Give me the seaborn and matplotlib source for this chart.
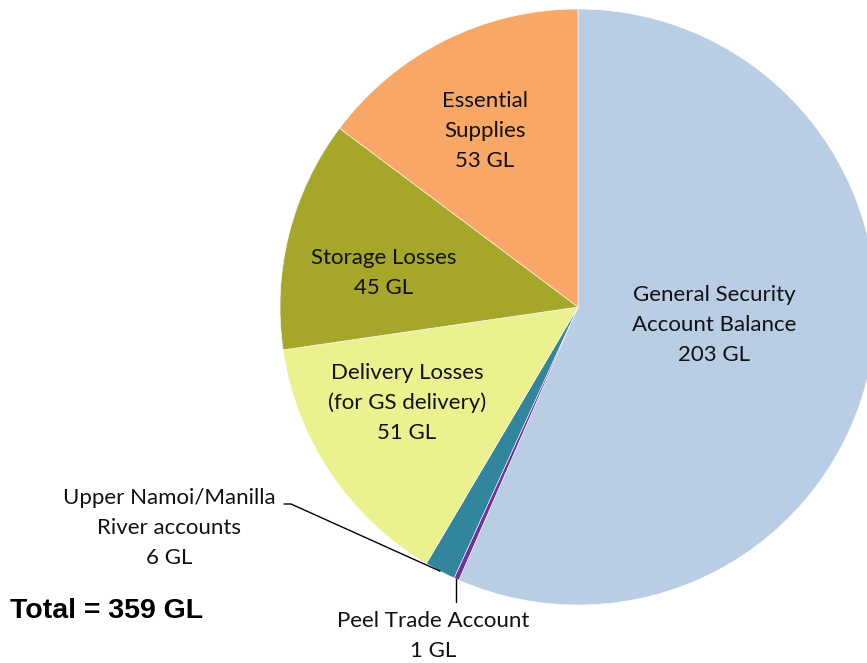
import numpy as np
import matplotlib
matplotlib.use("Agg")
import matplotlib.pyplot as plt
import seaborn as sns

# slice data, clockwise from 12 o'clock
accounts = ["General Security\nAccount Balance", "Peel Trade Account",
            "Upper Namoi/Manilla\nRiver accounts", "Delivery Losses\n(for GS delivery)",
            "Storage Losses", "Essential\nSupplies"]
volumes_gl = [203, 1, 6, 51, 45, 53]
colors = ["#B9CDE5", "#7030A0", "#31859C", "#EBF18E", "#A6A62B", "#F8A766"]

sns.set_theme(style="white")
plt.rcParams["font.family"] = ["Lato", "DejaVu Sans"]

W, H = 867, 663
fig = plt.figure(figsize=(W / 100, H / 100), dpi=100)
ax = fig.add_axes([0, 0, 1, 1])

cx, cy, R = 578, H - 307, 298
wedges, _ = ax.pie(volumes_gl, colors=colors, startangle=90, counterclock=False,
                   center=(cx, cy), radius=R, frame=True,
                   wedgeprops=dict(edgecolor="white", linewidth=0.4))
ax.set_xlim(0, W)
ax.set_ylim(0, H)
ax.set_aspect("equal")
ax.axis("off")

def edge_point(w):
    ang = np.deg2rad((w.theta1 + w.theta2) / 2)
    return cx + R * np.cos(ang), cy + R * np.sin(ang)

# labels inside / outside (pixel positions, y from top)
label_pos = [(714, 325), (433, 636), (169, 528), (407, 403), (384, 273), (485, 131)]
for name, v, (x, y) in zip(accounts, volumes_gl, label_pos):
    ax.text(x, H - y, f"{name}\n{v} GL", ha="center", va="center",
            fontsize=16, color="#111111", linespacing=1.6)

# leader lines for the two small slices
px, py = edge_point(wedges[2])
ax.plot([px, 291, 284], [py, H - 504, H - 504], color="black", lw=1)
px, py = edge_point(wedges[1])
ax.plot([px, px], [py, H - 602], color="black", lw=1)

ax.text(10, H - 611, f"Total = {sum(volumes_gl)} GL", ha="left", va="center",
        fontsize=20.5, fontweight="bold", family="Liberation Sans", color="black")

fig.savefig("out.png", dpi=100)
